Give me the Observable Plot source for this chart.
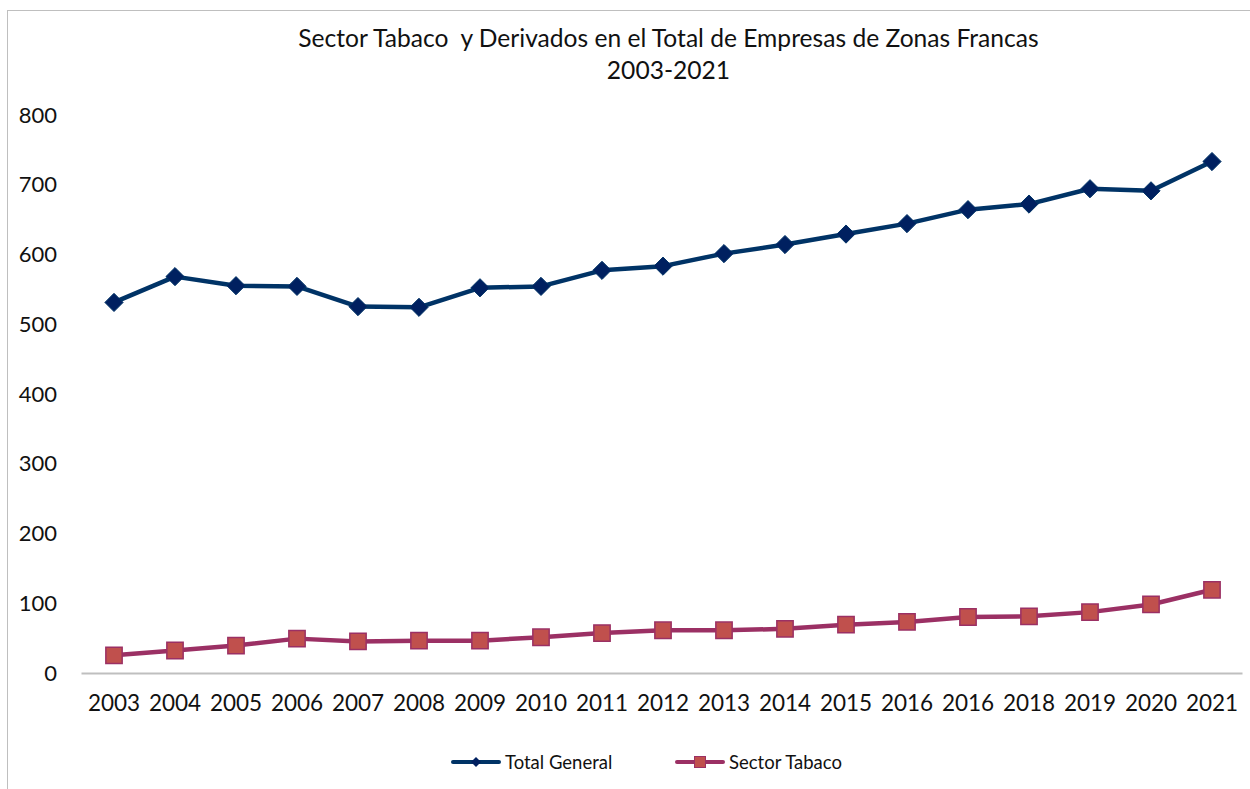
<!DOCTYPE html>
<html>
<head>
<meta charset="utf-8">
<script src="https://cdn.jsdelivr.net/npm/d3@7"></script>
<script src="https://cdn.jsdelivr.net/npm/@observablehq/plot@0.6"></script>
<style>
  html, body { margin: 0; padding: 0; background: #fff; }
  #wrap { position: relative; width: 1250px; height: 789px; overflow: hidden; font-family: Lato, "Open Sans", sans-serif; }
  #frame { position: absolute; left: 7px; top: 10px; width: 1260px; height: 800px; border: 1.5px solid #bfbfbf; box-sizing: border-box; }
  #title { position: absolute; left: 0; top: 22px; width: 1337px; text-align: center; font-size: 24.6px; line-height: 32px; color: #111; white-space: pre; }
  #chart { position: absolute; left: 0; top: 100px; }
  #legend { position: absolute; top: 750px; left: 0; width: 1250px; height: 24px; font-size: 18.5px; color: #111; }
  .item { position: absolute; top: 0; display: flex; align-items: center; height: 24px; }
  .item svg { margin-right: 4px; }
</style>
</head>
<body>
<div id="wrap">
  <div id="frame"></div>
  <div id="title">Sector Tabaco  y Derivados en el Total de Empresas de Zonas Francas
2003-2021</div>
  <div id="chart"></div>
  <div id="legend"></div>
</div>
<script>
const yearLabels = ["2003","2004","2005","2006","2007","2008","2009","2010","2011","2012","2013","2014","2015","2016","2016","2018","2019","2020","2021"];
const totalGeneral = [532, 569, 556, 555, 526, 525, 553, 555, 578, 584, 602, 615, 630, 645, 665, 673, 695, 692, 734];
const sectorTabaco = [26, 33, 40, 50, 46, 47, 47, 52, 58, 62, 62, 64, 70, 74, 81, 82, 88, 99, 120];
const seriesNames = ["Total General", "Sector Tabaco"];
const yTicks = [0, 100, 200, 300, 400, 500, 600, 700, 800];

const colors = {
  totalLine: "#003366", totalFill: "#002060",
  tabLine: "#9b3064", tabFill: "#c0504d"
};

const idx = yearLabels.map((_, i) => i);
const totalData = idx.map(i => ({i, v: totalGeneral[i]}));
const tabData = idx.map(i => ({i, v: sectorTabaco[i]}));

const chart = Plot.plot({
  width: 1250,
  height: 620,
  marginLeft: 81.5,
  marginRight: 7.5,
  marginTop: 15,
  marginBottom: 47,
  style: { fontFamily: "Lato, 'Open Sans', sans-serif", fontSize: "22px", color: "#111", background: "transparent" },
  x: { type: "band", domain: idx, padding: 0, axis: null },
  y: { domain: [0, 800], axis: null },
  marks: [
    Plot.axisY({ ticks: yTicks, tickSize: 0, tickPadding: 25, label: null, fontSize: 22 }),
    Plot.axisX({ tickSize: 0, tickPadding: 22, label: null, tickFormat: i => yearLabels[i], fontSize: 22.5 }),
    Plot.ruleY([0], { stroke: "#bfbfbf", strokeWidth: 2 }),
    Plot.line(totalData, { x: "i", y: "v", stroke: colors.totalLine, strokeWidth: 4.5 }),
    Plot.dot(totalData, { x: "i", y: "v", symbol: "diamond2", r: 8.2, fill: colors.totalFill, stroke: colors.totalLine, strokeWidth: 1 }),
    Plot.line(tabData, { x: "i", y: "v", stroke: colors.tabLine, strokeWidth: 4.5 }),
    Plot.dot(tabData, { x: "i", y: "v", symbol: "square", r: 9.2, fill: colors.tabFill, stroke: colors.tabLine, strokeWidth: 1.5 })
  ]
});
document.getElementById("chart").appendChild(chart);

// legend
const legend = document.getElementById("legend");
const legendItems = [
  { name: seriesNames[0], line: colors.totalLine, fill: colors.totalFill, sym: "diamond", left: 451 },
  { name: seriesNames[1], line: colors.tabLine, fill: colors.tabFill, sym: "square", left: 675 }
];
for (const it of legendItems) {
  const div = document.createElement("div");
  div.className = "item";
  div.style.left = it.left + "px";
  const marker = it.sym === "diamond"
    ? `<path d="M25,7 L30,12 L25,17 L20,12 Z" fill="${it.fill}"/>`
    : `<rect x="19.5" y="6.5" width="11" height="11" fill="${it.fill}" stroke="${it.line}" stroke-width="1"/>`;
  div.innerHTML = `<svg width="50" height="24"><line x1="2" x2="48" y1="12" y2="12" stroke="${it.line}" stroke-width="4" stroke-linecap="round"/>${marker}</svg><span>${it.name}</span>`;
  legend.appendChild(div);
}
</script>
</body>
</html>
